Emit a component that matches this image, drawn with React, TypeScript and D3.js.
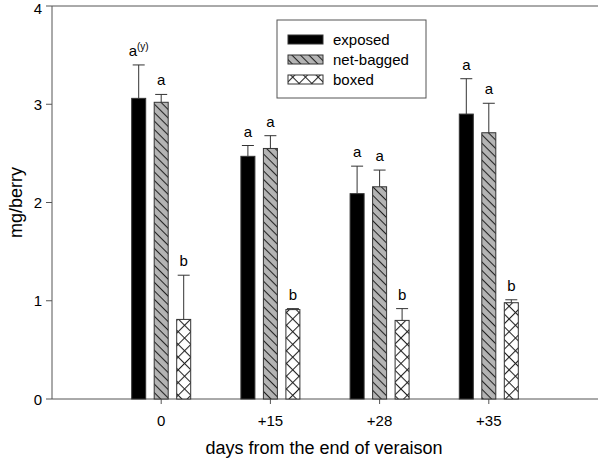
import React from "react";
import * as d3 from "d3";

const categories = ["0", "+15", "+28", "+35"];
const seriesNames = ["exposed", "net-bagged", "boxed"];
const exposedVals = [3.06, 2.47, 2.09, 2.9];
const exposedErr = [0.34, 0.11, 0.28, 0.36];
const netVals = [3.02, 2.55, 2.16, 2.71];
const netErr = [0.08, 0.13, 0.17, 0.3];
const boxedVals = [0.81, 0.91, 0.8, 0.98];
const boxedErr = [0.45, 0.01, 0.12, 0.03];
const exposedLetters = ["a", "a", "a", "a"];
const netLetters = ["a", "a", "a", "a"];
const boxedLetters = ["b", "b", "b", "b"];
const yTicks = [0, 1, 2, 3, 4];

const W = 600, H = 458;
const left = 52, right = 598, top = 6, bottom = 399;
const font = "Liberation Sans, Arial, sans-serif";

export default function App() {
  const x = d3.scaleLinear().domain([0, 5]).range([left, right]);
  const y = d3.scaleLinear().domain([0, 4]).range([bottom, top]);
  const barW = 14;
  const offset = 22.5;
  const series = [
    { vals: exposedVals, err: exposedErr, letters: exposedLetters, fill: "#000" },
    { vals: netVals, err: netErr, letters: netLetters, fill: "url(#hatch)" },
    { vals: boxedVals, err: boxedErr, letters: boxedLetters, fill: "url(#cross)" },
  ];
  return (
    <svg width={W} height={H} style={{ display: "block", position: "absolute", left: 0, top: 0 }} fontFamily={font}>
      <defs>
        <pattern id="hatch" patternUnits="userSpaceOnUse" width="6" height="6" patternTransform="rotate(45)">
          <rect width="6" height="6" fill="#b4b4b4" />
          <line x1="0" y1="0.5" x2="6" y2="0.5" stroke="#222" strokeWidth="1.1" />
        </pattern>
        <pattern id="cross" patternUnits="userSpaceOnUse" width="9" height="9" patternTransform="rotate(45)">
          <rect width="9" height="9" fill="#fff" />
          <line x1="0" y1="0.5" x2="9" y2="0.5" stroke="#222" strokeWidth="1.1" />
          <line x1="0.5" y1="0" x2="0.5" y2="9" stroke="#222" strokeWidth="1.1" />
        </pattern>
      </defs>
      <rect width={W} height={H} fill="#fff" />
      <line x1={left} x2={right} y1={top} y2={top} stroke="#555" strokeWidth={1} />
      <line x1={left} x2={right} y1={bottom} y2={bottom} stroke="#555" strokeWidth={1} />
      <line x1={left} x2={left} y1={top} y2={bottom} stroke="#555" strokeWidth={1} />
      {yTicks.map((t) => (
        <g key={t}>
          <line x1={left - 6} x2={left} y1={y(t)} y2={y(t)} stroke="#555" />
          <text x={left - 10} y={Math.max(y(t) + 5.5, 14)} textAnchor="end" fontSize={15}>{t}</text>
        </g>
      ))}
      {categories.map((c, i) => (
        <g key={c}>
          <line x1={x(i + 1)} x2={x(i + 1)} y1={bottom} y2={bottom + 5} stroke="#555" />
          <text x={x(i + 1)} y={426} textAnchor="middle" fontSize={15}>{c}</text>
        </g>
      ))}
      {series.map((s, si) =>
        categories.map((c, i) => {
          const cx = x(i + 1) + (si - 1) * offset;
          const yv = y(s.vals[i]);
          const ye = y(s.vals[i] + s.err[i]);
          return (
            <g key={si + "-" + i}>
              <rect x={cx - barW / 2} y={yv} width={barW} height={bottom - yv} fill={s.fill} stroke="#333" strokeWidth={1} />
              <line x1={cx} x2={cx} y1={yv} y2={ye} stroke="#333" />
              <line x1={cx - 6} x2={cx + 6} y1={ye} y2={ye} stroke="#333" />
              <text x={cx} y={ye - 9} textAnchor="middle" fontSize={15}>
                {s.letters[i]}
                {si === 0 && i === 0 ? (
                  <tspan fontSize={10} dy={-6}>(y)</tspan>
                ) : null}
              </text>
            </g>
          );
        })
      )}
      <rect x={277} y={20} width={149} height={78} fill="#fff" stroke="#555" strokeWidth={1} />
      {seriesNames.map((n, i) => {
        const yy = 35 + i * 20;
        return (
          <g key={n}>
            <rect x={288} y={yy} width={35} height={9} fill={series[i].fill} stroke="#333" strokeWidth={1} />
            <text x={333} y={yy + 10} fontSize={15}>{n}</text>
          </g>
        );
      })}
      <text transform={`translate(22,${(top + bottom) / 2}) rotate(-90)`} textAnchor="middle" fontSize={18}>mg/berry</text>
      <text x={324} y={454} textAnchor="middle" fontSize={18}>days from the end of veraison</text>
    </svg>
  );
}
